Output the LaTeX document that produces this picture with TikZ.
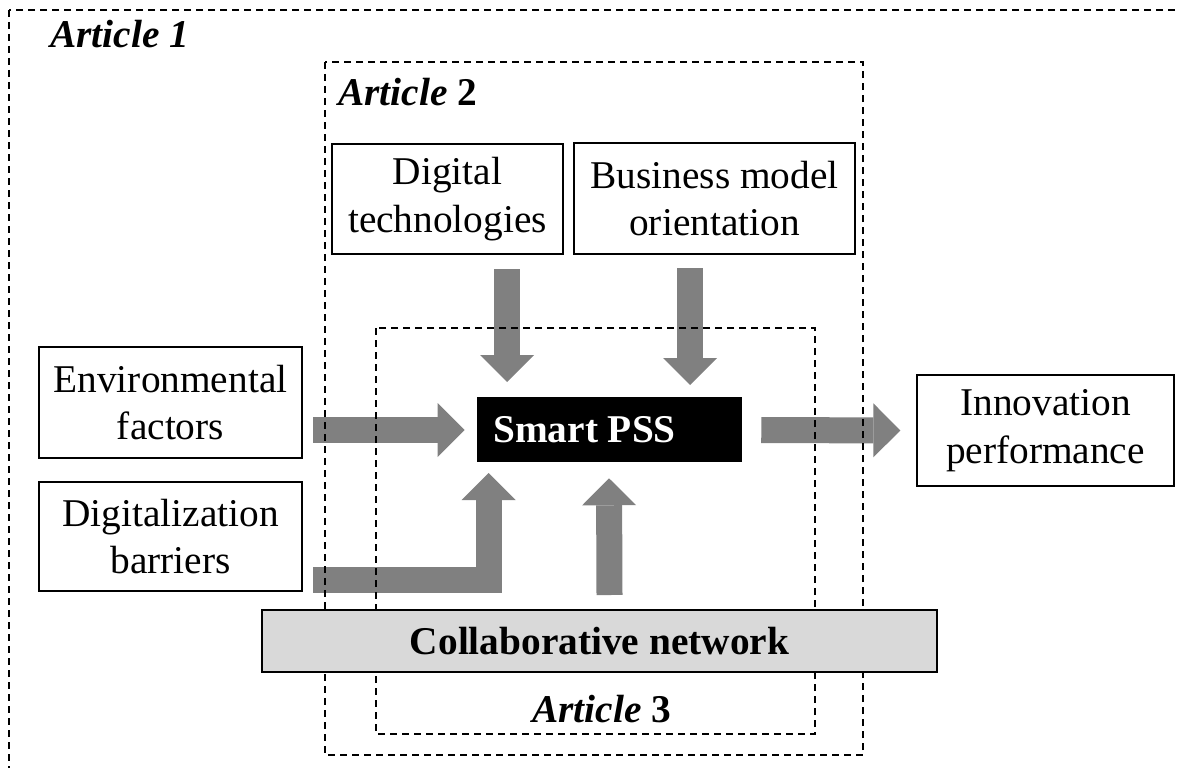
\documentclass[tikz,border=0pt]{standalone}
\usepackage{fontspec}
\setmainfont{Liberation Serif}
\usetikzlibrary{arrows.meta}
\definecolor{arrowgray}{RGB}{128,128,128}
\definecolor{netgray}{RGB}{217,217,217}
\begin{document}
\begin{tikzpicture}[x=0.75pt,y=-0.75pt,
  every node/.style={font=\fontsize{29.5}{35.5}\selectfont},
  plainbox/.style={draw, line width=1pt, inner sep=0pt, align=center},
  blk/.style={draw=arrowgray, line width=19.5pt, line join=miter,
    -{Triangle[width=40.5pt,length=20.25pt,line width=0pt,fill=arrowgray]}},
  dbox/.style={draw, line width=1.1pt, dash pattern=on 5.25pt off 3.75pt},
  lbl/.style={anchor=base west, inner sep=0pt}]
\useasboundingbox (0,0) rectangle (1177,767);
\clip (0,0) rectangle (1177,767);
\fill[white] (0,0) rectangle (1177,767);

% boxes
\node[plainbox, minimum width=197.25pt, minimum height=83.25pt] (env) at (170.5,402.5) {Environmental\\factors};
\node[plainbox, minimum width=197.25pt, minimum height=81.75pt] (dig) at (170.5,536.5) {Digitalization\\barriers};
\node[plainbox, minimum width=173.25pt, minimum height=82.5pt] (tech) at (447.5,199) {Digital\\technologies};
\node[plainbox, minimum width=210.75pt, minimum height=83.25pt] (bmo) at (714.5,198.5) {Business model\\orientation};
\node[plainbox, minimum width=192.75pt, minimum height=83.25pt] (innov) at (1045.5,430.5) {Innovation\\performance};
\node[draw=black, fill=black, minimum width=198pt, minimum height=48pt, inner sep=0pt] (smart) at (609,429) {};
\node[lbl, text=white, font=\fontsize{29.5}{35.5}\selectfont\bfseries] (smarttext) at (493,442) {Smart PSS};

% block arrows
\coordinate (envout) at (313,430);
\coordinate (digout) at (313,579.5);
\coordinate (techout) at (507,269);
\coordinate (bmoout) at (690,268);
\coordinate (netout) at (609.5,595);
\draw[blk] (envout) -- ([xshift=-9pt,yshift=-0.75pt]smart.west);
\draw[blk] ([xshift=15pt,yshift=-0.75pt]smart.east) -- ([xshift=-12pt]innov.west);
\draw[blk] (techout) -- (techout |- 0,382);
\draw[blk] (bmoout) -- (bmoout |- 0,385);
\draw[blk] (netout) -- ([yshift=-12.75pt]smart.south);
\draw[blk] (digout) -| (488.5,473);

% article frames
\draw[dbox] (9,10) rectangle (1260,860);
\draw[dbox] (325,62) rectangle (863,755);
\draw[dbox] (376,328) rectangle (815,734);

\node[lbl, font=\fontsize{29.5}{35.5}\selectfont\bfseries\itshape] (art1) at (50,48) {Article 1};
\node[lbl, font=\fontsize{29.5}{35.5}\selectfont\bfseries] (art2) at (338,105) {\textit{Article} 2};
\node[lbl, font=\fontsize{29.5}{35.5}\selectfont\bfseries] (art3) at (532,722) {\textit{Article} 3};

% collaborative network on top of frames
\node[plainbox, fill=netgray, minimum width=506.25pt, minimum height=46.5pt, font=\fontsize{29.5}{35.5}\selectfont\bfseries] (net) at (599.5,641) {Collaborative network};
\end{tikzpicture}
\end{document}
